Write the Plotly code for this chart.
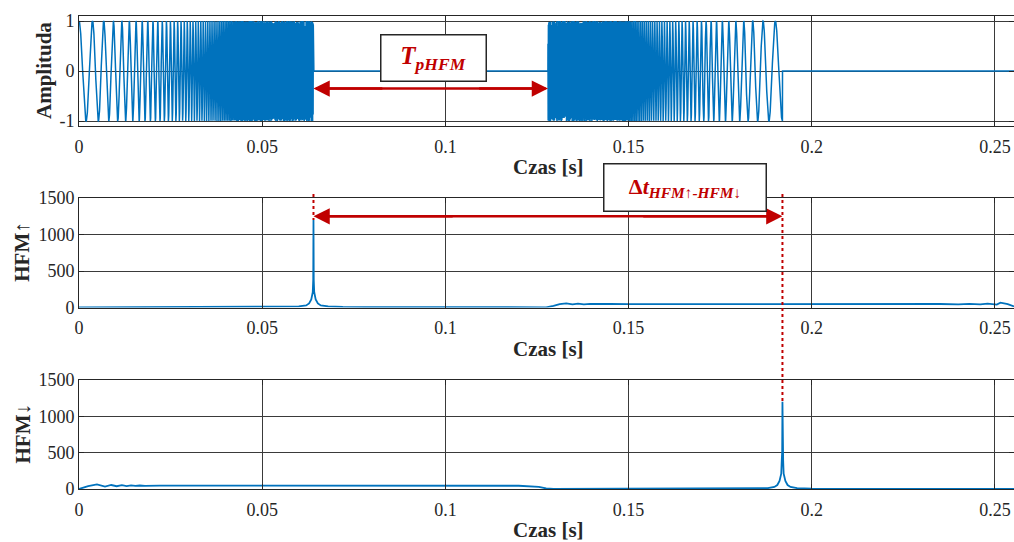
import numpy as np
import plotly.graph_objects as go

# ---------------- data ----------------
# transmitted signal: two HFM pulses (up-sweep, then down-sweep)
pulse_starts = [0.0, 0.128]          # s
pulse_length = 0.064                 # s
sweep_freqs = [245.0, 8000.0]        # Hz, start / end of the up-sweep
sample_rate = 44100.0                # Hz
t_end = 0.256

# correlation with HFM-up (middle panel)
mid_t = [0, 0.02, 0.04, 0.05, 0.056, 0.060, 0.062, 0.0628, 0.0634, 0.0638, 0.06393, 0.064,
         0.06407, 0.0642, 0.0646, 0.0652, 0.066, 0.068, 0.072, 0.08, 0.1, 0.12, 0.1275,
         0.1295, 0.1312, 0.1330, 0.1347, 0.1362, 0.1378, 0.1395, 0.142, 0.145, 0.15, 0.16,
         0.18, 0.2, 0.22, 0.235, 0.240, 0.243, 0.246, 0.248, 0.2505, 0.2515, 0.2535, 0.2552]
mid_v = [2, 3, 4, 5, 8, 15, 28, 55, 110, 210, 380, 1200,
         380, 210, 110, 55, 28, 15, 8, 5, 4, 3, 3,
         22, 45, 57, 43, 53, 44, 50, 46, 48, 46, 47,
         47, 47, 46, 48, 44, 50, 42, 54, 40, 66, 45, 14]

# correlation with HFM-down (bottom panel)
bot_t = [0, 0.0025, 0.0049, 0.0071, 0.0088, 0.0103, 0.0117, 0.0130, 0.0142, 0.0154,
         0.0166, 0.018, 0.022, 0.05, 0.1, 0.12, 0.1255, 0.1275, 0.1295, 0.15, 0.18,
         0.186, 0.188, 0.1898, 0.1906, 0.1912, 0.19167, 0.1918, 0.19193, 0.192,
         0.19207, 0.1922, 0.19233, 0.1928, 0.1934, 0.1942, 0.196, 0.2, 0.22, 0.2552]
bot_v = [0, 40, 64, 32, 55, 38, 52, 40, 50, 42,
         48, 44, 46, 46, 45, 45, 30, 8, 2, 2, 3,
         6, 12, 28, 55, 110, 210, 380, 520, 1200,
         520, 380, 210, 110, 55, 28, 12, 5, 3, 2]

x_ticks = [0, 0.05, 0.1, 0.15, 0.2, 0.25]
x_tick_text = ["0", "0.05", "0.1", "0.15", "0.2", "0.25"]
amp_ticks = [-1, 0, 1]
corr_ticks = [0, 500, 1000, 1500]
peak_times = [0.064, 0.192]

# ---------------- build the transmitted signal ----------------
t = np.arange(0, t_end, 1 / sample_rate)
f0, f1 = sweep_freqs
r = f1 / f0
T = pulse_length


def hfm_phase(tau):
    return 2 * np.pi * f0 * T / np.log(r) * (r ** (tau / T) - 1)


sig = np.zeros_like(t)
m1 = (t >= pulse_starts[0]) & (t < pulse_starts[0] + T)
sig[m1] = np.cos(hfm_phase(t[m1] - pulse_starts[0]))
m2 = (t >= pulse_starts[1]) & (t < pulse_starts[1] + T)
sig[m2] = -np.cos(hfm_phase(pulse_starts[1] + T - t[m2]))

# ---------------- figure ----------------
W, H = 1014, 542
BLUE = "#0072BD"
RED = "#C00000"
AX = "#262626"
GRID = "#3a3a3a"
FONT = "Liberation Serif"


def px(x):
    return x / W


def py(y):
    return 1 - y / H


fig = go.Figure()
fig.add_trace(go.Scatter(x=t, y=sig, mode="lines", line=dict(color=BLUE, width=1.5),
                         xaxis="x", yaxis="y", hoverinfo="skip"))
fig.add_trace(go.Scatter(x=mid_t, y=mid_v, mode="lines", line=dict(color=BLUE, width=1.8),
                         xaxis="x2", yaxis="y2"))
fig.add_trace(go.Scatter(x=bot_t, y=bot_v, mode="lines", line=dict(color=BLUE, width=1.8),
                         xaxis="x3", yaxis="y3"))

x_left = 79
xdom = [px(x_left), 1.0]
panels = [(16, 126), (198, 307.5), (380, 489)]

common_x = dict(range=[0, 0.2552], tickvals=x_ticks, ticktext=x_tick_text,
                showgrid=True, gridcolor=GRID, gridwidth=1, zeroline=False,
                showline=True, linecolor=AX, linewidth=1, mirror="ticks",
                ticks="inside", ticklen=5, tickcolor=AX, automargin=False,
                ticklabelstandoff=4,
                tickfont=dict(family=FONT, size=18, color=AX), domain=xdom)
common_y = dict(showgrid=True, gridcolor=GRID, gridwidth=1, zeroline=False,
                showline=True, linecolor=AX, linewidth=1, mirror="ticks",
                ticks="inside", ticklen=5, tickcolor=AX, automargin=False,
                tickfont=dict(family=FONT, size=18, color=AX))

layout = dict(width=W, height=H, margin=dict(l=0, r=0, t=0, b=0, autoexpand=False),
              paper_bgcolor="white", plot_bgcolor="white", showlegend=False)
names = ["", "2", "3"]
for i, (top, bot) in enumerate(panels):
    n = names[i]
    layout["xaxis" + n] = dict(common_x, anchor="y" + n)
    ydict = dict(common_y, anchor="x" + n, domain=[py(bot), py(top)])
    if i == 0:
        ydict.update(range=[-1.1, 1.1], tickvals=amp_ticks, ticktext=["-1", "0", "1"])
    else:
        ydict.update(range=[0, 1500], tickvals=corr_ticks,
                     ticktext=[str(v) for v in corr_ticks])
    layout["yaxis" + n] = ydict
fig.update_layout(**layout)

ann = []
# axis titles
for (top, bot) in panels:
    ann.append(dict(text="<b>Czas [s]</b>", x=px(548), y=py(bot + 41), xref="paper",
                    yref="paper", showarrow=False, xanchor="center", yanchor="middle",
                    font=dict(family=FONT, size=21, color=AX)))
ytitles = [("<b>Amplituda</b>", 44), ("<b>HFM</b>↑", 22), ("<b>HFM</b>↓", 22)]
for (txt, xc), (top, bot) in zip(ytitles, panels):
    ann.append(dict(text=txt, x=px(xc), y=py((top + bot) / 2), xref="paper", yref="paper",
                    showarrow=False, textangle=-90, xanchor="center", yanchor="middle",
                    font=dict(family=FONT, size=21, color=AX)))

shapes = []


# double-headed arrows: a shaft plus two heads
def dbl_arrow(x0, x1, yv, xr, yr):
    span = x1 - x0
    shapes.append(dict(type="line", xref=xr, yref=yr, x0=x0 + 0.01 * span,
                       x1=x1 - 0.01 * span, y0=yv, y1=yv,
                       line=dict(color=RED, width=2.5)))
    for xe, xt in ((x0, x0 + 0.3 * span), (x1, x1 - 0.3 * span)):
        ann.append(dict(x=xe, y=yv, ax=xt, ay=yv, xref=xr, yref=yr, axref=xr, ayref=yr,
                        text="", showarrow=True, arrowhead=2, arrowsize=1.3,
                        arrowwidth=2.5, arrowcolor=RED, standoff=0))


dbl_arrow(pulse_starts[0] + T, pulse_starts[1], -0.35, "x", "y")
dbl_arrow(peak_times[0], peak_times[1], 1250, "x2", "y2")

# text boxes
ann.append(dict(text="<b><i>T<sub>pHFM</sub></i></b>", x=px(433.5), y=py(58), xref="paper",
                yref="paper", showarrow=False, xanchor="center", yanchor="middle",
                width=104, height=45, bgcolor="white", bordercolor=AX, borderwidth=1.5,
                borderpad=0, font=dict(family=FONT, size=25, color=RED)))
ann.append(dict(text="<b>Δ<i>t</i></b><sub><b><i>HFM↑-HFM↓</i></b></sub>", x=px(685),
                y=py(187), xref="paper", yref="paper", showarrow=False, xanchor="center",
                yanchor="middle", width=161, height=46, bgcolor="white", bordercolor=AX,
                borderwidth=1.5, borderpad=0, font=dict(family=FONT, size=22, color=RED)))

shapes += [
    dict(type="line", xref="x2", yref="paper", x0=peak_times[0], x1=peak_times[0],
         y0=py(194), y1=py(220), line=dict(color=RED, width=2, dash="dot")),
    dict(type="line", xref="x2", yref="paper", x0=peak_times[1], x1=peak_times[1],
         y0=py(194), y1=py(401), line=dict(color=RED, width=2, dash="dot")),
]
fig.update_layout(annotations=ann, shapes=shapes)

fig.write_html("out.html", config={"displayModeBar": False},
               post_script="document.body.style.margin='0';"
                           "document.body.style.overflow='hidden';")
